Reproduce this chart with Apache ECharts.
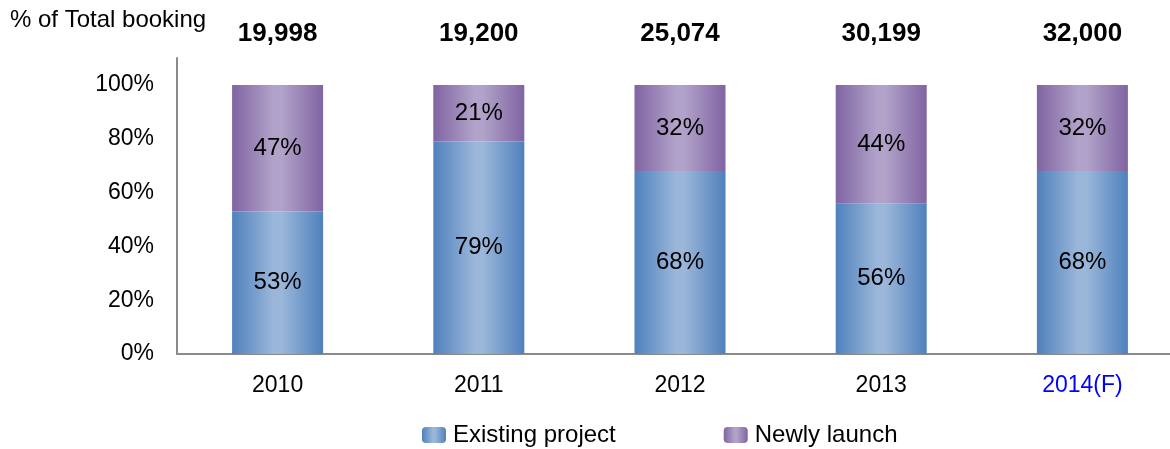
<!DOCTYPE html>
<html>
<head>
<meta charset="utf-8">
<script src="https://cdn.jsdelivr.net/npm/echarts@6/dist/echarts.min.js"></script>
<style>
  html, body { margin: 0; padding: 0; background: #fff; }
  #chart { width: 1170px; height: 449px; }
</style>
</head>
<body>
<div id="chart"></div>
<script>
// Share of total bookings by project type, with yearly total bookings on top
const years = ['2010', '2011', '2012', '2013', '2014(F)'];
const totalBookings = [19998, 19200, 25074, 30199, 32000];
const existingProject = [53, 79, 68, 56, 68];
const newlyLaunch = [47, 21, 32, 44, 32];
const yTicks = [0, 20, 40, 60, 80, 100];

const FONT = '"Liberation Sans", Arial, sans-serif';

function hGradient(edge, mid) {
  return new echarts.graphic.LinearGradient(0, 0, 1, 0, [
    { offset: 0, color: edge },
    { offset: 0.45, color: mid },
    { offset: 0.55, color: mid },
    { offset: 1, color: edge }
  ]);
}

const chart = echarts.init(document.getElementById('chart'));
chart.setOption({
  animation: false,
  textStyle: { fontFamily: FONT },
  title: {
    text: '% of Total booking',
    left: 10, top: 8, padding: 0,
    textStyle: { fontFamily: FONT, fontSize: 24, fontWeight: 'normal', color: '#000' }
  },
  legend: {
    top: 423,
    left: 422,
    padding: 0,
    itemWidth: 24, itemHeight: 16,
    itemGap: 108,
    textStyle: { fontFamily: FONT, fontSize: 24, color: '#000', padding: [0, 0, 0, 2] },
    data: ['Existing project', 'Newly launch']
  },
  // plot area runs slightly past the right edge of the canvas
  grid: {
    left: 177, right: -13, top: 58, bottom: 95,
    containLabel: false,
    outerBoundsMode: 'none'
  },
  xAxis: [
    {
      type: 'category',
      data: years.map((y, i) => i === years.length - 1
        ? { value: y, textStyle: { color: '#0000ff' } }
        : y),
      axisLine: { lineStyle: { color: '#8a8a8a', width: 2 } },
      axisTick: { show: false },
      axisLabel: { fontFamily: FONT, fontSize: 23, color: '#000', margin: 20 }
    },
    {
      type: 'category',
      position: 'top',
      data: totalBookings.map(v => v.toLocaleString('en-US')),
      axisLine: { show: false },
      axisTick: { show: false },
      axisLabel: { fontFamily: FONT, fontSize: 26, fontWeight: 'bold', color: '#000', margin: 11 }
    }
  ],
  yAxis: {
    type: 'value',
    min: 0, max: 110, interval: 20,
    axisLine: { show: true, lineStyle: { color: '#8a8a8a', width: 2 } },
    axisTick: { show: false },
    splitLine: { show: false },
    axisLabel: {
      fontFamily: FONT, fontSize: 23, color: '#000', margin: 23,
      formatter: v => yTicks.includes(v) ? v + '%' : ''
    }
  },
  series: [
    {
      name: 'Existing project',
      type: 'bar',
      stack: 'share',
      barWidth: 91,
      data: existingProject,
      itemStyle: { color: hGradient('#4f81bd', '#9ab6d9') },
      label: { show: true, position: 'inside', formatter: '{c}%', fontFamily: FONT, fontSize: 24, color: '#000' }
    },
    {
      name: 'Newly launch',
      type: 'bar',
      stack: 'share',
      barWidth: 91,
      data: newlyLaunch,
      itemStyle: { color: hGradient('#8064a2', '#b1a2c9') },
      label: { show: true, position: 'inside', formatter: '{c}%', fontFamily: FONT, fontSize: 24, color: '#000' }
    }
  ]
});
</script>
</body>
</html>
